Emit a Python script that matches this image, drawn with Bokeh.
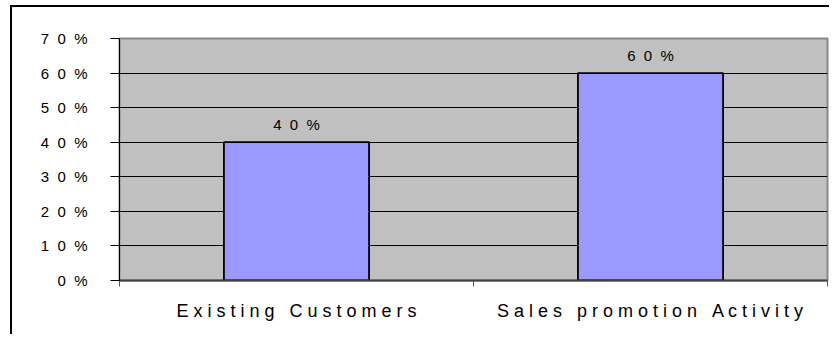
from bokeh.plotting import figure
from bokeh.models import FixedTicker, Range1d
from bokeh.core.properties import value
from bokeh.embed import file_html
from bokeh.resources import INLINE

NB = "\u00a0"
categories = ["E x i s t i n g" + " " + NB + NB + "C u s t o m e r s",
              "S a l e s" + " " + NB + NB + "p r o m o t i o n" + " " + NB + NB + "A c t i v i t y"]
shares = [40, 60]
share_labels = ["4" + NB + NB + "0" + NB + NB + "%", "6" + NB + NB + "0" + NB + NB + "%"]
y_ticks = [0, 10, 20, 30, 40, 50, 60, 70]
y_tick_labels = ["0" + NB + NB + "%"] + [
    f"{t // 10}" + NB + NB + "0" + NB + NB + "%" for t in y_ticks[1:]]

FONT = "Liberation Sans"
xs = [i + 0.5 for i in range(len(categories))]

p = figure(width=819, height=329, output_backend="svg", toolbar_location=None,
           x_range=Range1d(0, len(categories)), y_range=Range1d(0, 70),
           min_border_left=107, min_border_right=4, min_border_top=31, min_border_bottom=56)
p.styles = {"border-top": "2px solid black", "border-left": "2px solid black",
            "margin-top": "5px", "margin-left": "10px"}
p.background_fill_color = "#C0C0C0"
p.border_fill_color = "white"
p.outline_line_color = "#888888"
p.outline_line_width = 2

p.vbar(x=xs, width=0.41, top=shares, fill_color="#9999FF", line_color="black", line_width=1.8)
p.text(x=xs, y=shares, text=share_labels, text_align="center", text_baseline="middle",
       y_offset=-18, text_font=value(FONT), text_font_size="15px", text_color="black")

# y axis
p.yaxis.ticker = FixedTicker(ticks=y_ticks)
p.yaxis.major_label_overrides = {t: l for t, l in zip(y_ticks, y_tick_labels)}
p.yaxis.major_tick_out = 9
p.yaxis.major_tick_in = 0
p.yaxis.minor_tick_out = 0
p.yaxis.minor_tick_in = 0
p.yaxis.axis_line_color = "black"
p.yaxis.major_tick_line_color = "black"
p.yaxis.major_label_standoff = 23
p.yaxis.major_label_text_font = FONT
p.yaxis.major_label_text_font_size = "15px"
p.yaxis.major_label_text_color = "black"

# x axis
p.xaxis.ticker = FixedTicker(ticks=xs, minor_ticks=list(range(len(categories) + 1)))
p.xaxis.major_label_overrides = {x: c for x, c in zip(xs, categories)}
p.xaxis.major_tick_out = 0
p.xaxis.major_tick_in = 0
p.xaxis.minor_tick_out = 6
p.xaxis.minor_tick_in = 0
p.xaxis.minor_tick_line_color = "#555555"
p.xaxis.axis_line_color = "#404040"
p.xaxis.axis_line_width = 2
p.xaxis.major_label_standoff = 14
p.xaxis.major_label_text_font = FONT
p.xaxis.major_label_text_font_size = "18px"
p.xaxis.major_label_text_color = "black"

# grid
p.xgrid.visible = False
p.ygrid.ticker = FixedTicker(ticks=y_ticks[1:-1])
p.ygrid.grid_line_color = "black"
p.ygrid.grid_line_width = 1

open("out.html", "w").write(file_html(p, INLINE))
